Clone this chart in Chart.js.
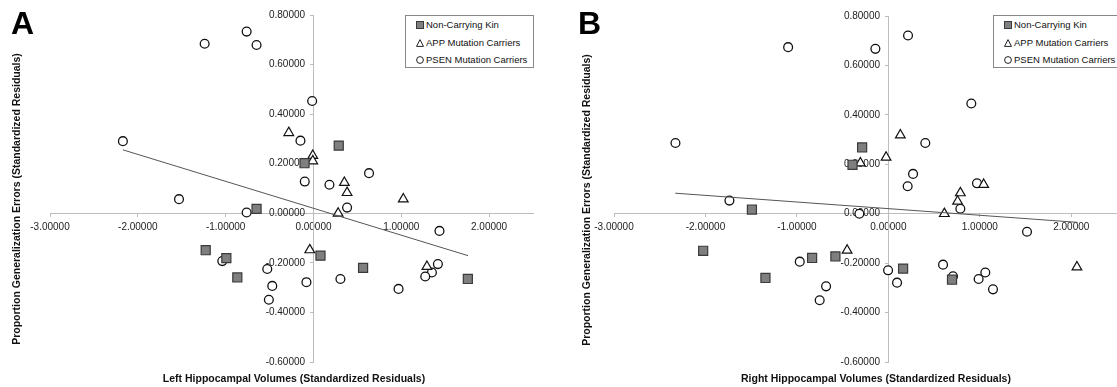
<!DOCTYPE html>
<html>
<head>
<meta charset="utf-8">
<title>Hippocampal volumes vs generalization errors</title>
<script src="https://cdn.jsdelivr.net/npm/chart.js"></script>
<style>
  body { margin: 0; background: #fff; }
  #wrap { position: relative; width: 1117px; height: 387px; overflow: hidden; background: #fff;
          font-family: "Liberation Sans", Arial, sans-serif; color: #111; }
  .panel { position: absolute; top: 0; height: 387px; }
  .letter { position: absolute; font-weight: bold; font-size: 32px; line-height: 1; color: #000; }
  .xtitle, .ytitle { position: absolute; font-weight: bold; font-size: 10.5px; white-space: nowrap; color: #111; }
  .xtitle { transform: translate(-50%, -50%); }
  .ytitle { transform: translate(-50%, -50%) rotate(-90deg); }
  .legend { position: absolute; border: 1px solid #888; background: #fff; font-size: 9.5px; }
  .legend div { position: absolute; left: 20px; white-space: nowrap; line-height: 12px; }
  .legend svg { position: absolute; left: -10px; top: 2px; }
</style>
</head>
<body>
<div id="wrap">
  <canvas id="chartA" class="panel" style="left:0;width:555px" width="555" height="387"></canvas>
  <!-- B is wider than the page: its right end is cut off at the window edge, as in the figure -->
  <canvas id="chartB" class="panel" style="left:555px;width:574px" width="574" height="387"></canvas>

  <div class="letter" style="left:11px;top:7px">A</div>
  <div class="letter" style="left:578px;top:7px">B</div>

  <div class="ytitle" style="left:16px;top:199px">Proportion Generalization Errors (Standardized Residuals)</div>
  <div class="ytitle" style="left:586px;top:200px">Proportion Generalization Errors (Standardized Residuals)</div>
  <div class="xtitle" style="left:294px;top:378px">Left Hippocampal Volumes (Standardized Residuals)</div>
  <div class="xtitle" style="left:876px;top:378px">Right Hippocampal Volumes (Standardized Residuals)</div>

  <div class="legend" id="legA" style="left:405px;top:15px;width:127px;height:51px"></div>
  <div class="legend" id="legB" style="left:993px;top:15px;width:130px;height:51px"></div>
</div>

<script>
// axis ranges
const xMin = -3, xMax = 2.5, xStep = 1;
const yMin = -0.6, yMax = 0.8, yStep = 0.2;

const groupNames = ['Non-Carrying Kin', 'APP Mutation Carriers', 'PSEN Mutation Carriers'];

// panel A: left hippocampal volumes
const leftKinX = [0.288, -0.102, -0.648, -1.227, -0.992, -0.867, 0.080, 0.565, 1.758];
const leftKinY = [0.273, 0.202, 0.018, -0.149, -0.181, -0.259, -0.171, -0.220, -0.265];
const leftAppX = [-0.281, -0.008, -0.008, 0.352, 0.383, 1.023, 0.281, -0.042, 1.292];
const leftAppY = [0.325, 0.233, 0.211, 0.124, 0.083, 0.057, 0.000, -0.148, -0.215];
const leftPsenX = [-1.239, -0.761, -0.648, -2.170, -1.531, -0.015, -0.148, -0.099, 0.182, 0.633, 0.383, -0.761,
                   -1.038, -0.526, -0.469, -0.508, 1.435, -0.080, 0.307, 0.969, 1.417, 1.349, 1.273];
const leftPsenY = [0.684, 0.733, 0.679, 0.291, 0.057, 0.453, 0.293, 0.128, 0.115, 0.162, 0.023, 0.003,
                   -0.193, -0.225, -0.293, -0.349, -0.071, -0.278, -0.265, -0.305, -0.205, -0.239, -0.255];
const leftFitX = [-2.17, 1.76];
const leftFitY = [0.256, -0.171];

// panel B: right hippocampal volumes
const rightKinX = [-0.287, -0.392, -1.492, -2.025, -1.344, -0.834, -0.579, 0.161, 0.696];
const rightKinY = [0.268, 0.198, 0.017, -0.150, -0.260, -0.179, -0.173, -0.222, -0.267];
const rightAppX = [0.131, -0.025, -0.306, 1.042, 0.787, 0.757, 0.612, -0.451, 2.062];
const rightAppY = [0.318, 0.228, 0.205, 0.118, 0.084, 0.050, 0.000, -0.148, -0.216];
const rightPsenX = [-1.096, -0.142, 0.215, 0.907, -2.328, 0.404, 0.270, 0.211, 0.969, 0.787, -1.738, -0.317,
                    -0.969, -0.681, -0.751, 1.516, -0.003, 0.095, 0.598, 0.707, 0.987, 1.060, 1.144];
const rightPsenY = [0.674, 0.667, 0.721, 0.446, 0.286, 0.286, 0.161, 0.111, 0.123, 0.020, 0.053, 0.000,
                    -0.194, -0.294, -0.350, -0.073, -0.229, -0.279, -0.206, -0.253, -0.264, -0.238, -0.306];
const rightFitX = [-2.33, 2.07];
const rightFitY = [0.083, -0.035];

const axisColor = '#bdbdbd';
const tickFont = { family: '"Liberation Sans", Arial, sans-serif', size: 10 };

function pts(xs, ys) {
  return xs.map((x, i) => ({ x: x, y: ys[i] }));
}

function makeChart(id, kin, app, psen, fit, pad) {
  const ctx = document.getElementById(id).getContext('2d');
  return new Chart(ctx, {
    type: 'scatter',
    data: {
      datasets: [
        {
          label: 'fit', type: 'line', data: pts(fit[0], fit[1]),
          borderColor: '#555', borderWidth: 1, pointRadius: 0, fill: false
        },
        {
          label: groupNames[0], data: pts(kin[0], kin[1]),
          pointStyle: 'rect', pointRadius: 6.4, backgroundColor: '#7f7f7f',
          borderColor: '#3a3a3a', borderWidth: 1.2
        },
        {
          label: groupNames[1], data: pts(app[0], app[1]),
          pointStyle: 'triangle', pointRadius: 5.6, backgroundColor: '#fff',
          borderColor: '#111', borderWidth: 1.2
        },
        {
          label: groupNames[2], data: pts(psen[0], psen[1]),
          pointStyle: 'circle', pointRadius: 4.4, backgroundColor: '#fff',
          borderColor: '#111', borderWidth: 1.3
        }
      ]
    },
    options: {
      responsive: false,
      animation: false,
      layout: { padding: pad },
      plugins: { legend: { display: false }, tooltip: { enabled: false } },
      scales: {
        x: {
          type: 'linear', min: xMin, max: xMax, position: { y: 0 },
          afterFit: s => { s.height = 0; },
          grid: { drawOnChartArea: false, drawTicks: true, tickLength: 3, tickColor: axisColor },
          border: { display: true, color: axisColor, width: 1 },
          ticks: {
            stepSize: xStep, includeBounds: false, padding: 5, autoSkip: false, maxRotation: 0,
            font: tickFont, color: '#222', callback: v => Number(v).toFixed(5)
          }
        },
        y: {
          type: 'linear', min: yMin, max: yMax, position: { x: 0 },
          afterFit: s => { s.width = 0; },
          grid: { drawOnChartArea: false, drawTicks: true, tickLength: 3, tickColor: axisColor },
          border: { display: true, color: axisColor, width: 1 },
          ticks: {
            // labels of a value-positioned y axis sit right on the line, so pad with spaces
            stepSize: yStep, autoSkip: false,
            font: tickFont, color: '#222', callback: v => Number(v).toFixed(5) + '   '
          }
        }
      }
    }
  });
}

makeChart('chartA',
  [leftKinX, leftKinY], [leftAppX, leftAppY], [leftPsenX, leftPsenY], [leftFitX, leftFitY],
  { left: 50, right: 22, top: 15, bottom: 25 });
makeChart('chartB',
  [rightKinX, rightKinY], [rightAppX, rightAppY], [rightPsenX, rightPsenY], [rightFitX, rightFitY],
  { left: 59, right: 12, top: 16, bottom: 25 });

// html legends
const markers = [
  '<svg width="8" height="8"><rect x="0.5" y="0.5" width="7" height="7" fill="#7f7f7f" stroke="#3a3a3a"/></svg>',
  '<svg width="8" height="8"><polygon points="4,0.6 7.5,7.4 0.5,7.4" fill="#fff" stroke="#222"/></svg>',
  '<svg width="8" height="8"><circle cx="4" cy="4" r="3.4" fill="#fff" stroke="#222"/></svg>'
];
['legA', 'legB'].forEach(id => {
  const box = document.getElementById(id);
  groupNames.forEach((name, i) => {
    const row = document.createElement('div');
    row.style.top = (3 + i * 17.5) + 'px';
    row.innerHTML = markers[i] + name;
    box.appendChild(row);
  });
});
</script>
</body>
</html>
